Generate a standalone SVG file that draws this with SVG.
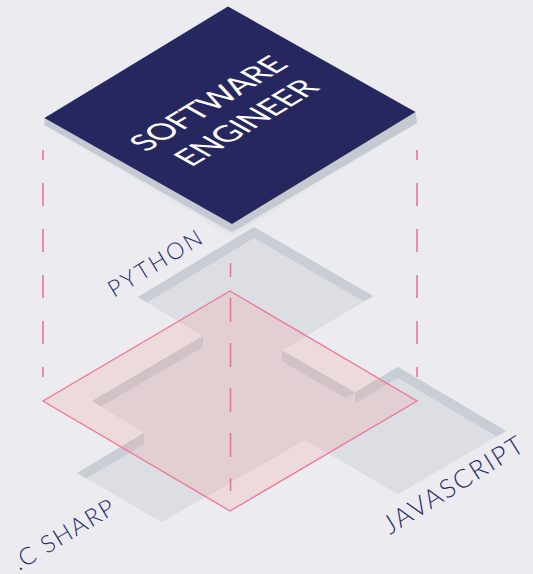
<svg xmlns="http://www.w3.org/2000/svg" width="533" height="574" viewBox="0 0 533 574">
<defs>
<style>
.gray{fill:#dcdee3}
.rim{fill:#c9cdd5}
.overlay{fill:#efa39b;fill-opacity:0.25;stroke:#ee7a9c;stroke-width:1.4}
.dash{fill:none;stroke:#ec7398;stroke-width:1.6}
.label{font-family:Lato,"Liberation Sans",sans-serif;font-weight:300;fill:#2b2d6b}
.title{font-family:Lato,"Liberation Sans",sans-serif;font-weight:400;fill:#ffffff;font-size:32px;text-anchor:middle}
</style>
<filter id="soft" x="-20%" y="-20%" width="140%" height="140%"><feGaussianBlur stdDeviation="3"/></filter>
</defs>
<rect width="533" height="574" fill="#ececf0"/>
<g id="base">
<polygon class="gray" points="254,227 373,296 282,350.3 355,392.5 398,367 506,431 398,494 305,440 162,522 77,473 144,433 92,401 203,336 138,297"/>
<polygon class="rim" points="92,401 203,336 203,347 101.1,406.6"/>
<polygon class="rim" points="282,350.3 355,392.5 355,403.5 282,361.3"/>
</g>
<g id="python">
<polygon class="gray" points="254,227 373,296 254,367 138,297"/>
<polygon class="rim" points="138,297 254,227 373,296 363.9,301.5 254,238 147.1,302.5"/>
<text class="label" font-size="23" textLength="106" transform="translate(114,298) rotate(-31.5)">PYTHON</text>
</g>
<g id="javascript">
<polygon class="gray" points="398,367 506,431 398,494 290,431"/>
<polygon class="rim" points="355,392.5 398,367 506,431 496.7,436.5 398,378 355,403.5"/>
<text class="label" font-size="26" textLength="160" transform="translate(390,535) rotate(-32)">JAVASCRIPT</text>
</g>
<g id="csharp">
<polygon class="gray" points="77,473 144,433 229,482 162,522"/>
<polygon class="rim" points="77,473 144,433 144,444 86.4,478.4"/>
<text class="label" font-size="24" textLength="114" transform="translate(19,571) rotate(-31)">.C SHARP</text>
</g>
<g id="overlay">
<polygon class="overlay" points="230,291 417,401 230,511 43,401"/>
</g>
<g id="connectors">
<line class="dash" x1="43" y1="150" x2="43" y2="377" stroke-dasharray="23 23" stroke-dashoffset="13"/>
<line class="dash" x1="417" y1="150" x2="417" y2="377" stroke-dasharray="23 23" stroke-dashoffset="13"/>
<line class="dash" x1="230.5" y1="263" x2="230.5" y2="491" stroke-dasharray="24 21" stroke-dashoffset="10"/>
</g>
<g id="software-engineer">
<polygon points="46,122 228,12 417,118 232,232" fill="#8c93a6" opacity="0.35" filter="url(#soft)"/>
<polygon points="44.5,118 228,6.5 415.5,112 417,123 232,232 44.5,125" fill="#c5c9d2"/>
<polygon points="228,6.5 415.5,112 232,224 44.5,118" fill="#27275f"/>
<text class="title" textLength="168" transform="matrix(0.855,-0.519,0.872,0.49,218,109)">SOFTWARE</text>
<text class="title" textLength="152" transform="matrix(0.855,-0.519,0.872,0.49,256,128)">ENGINEER</text>
</g>
</svg>
